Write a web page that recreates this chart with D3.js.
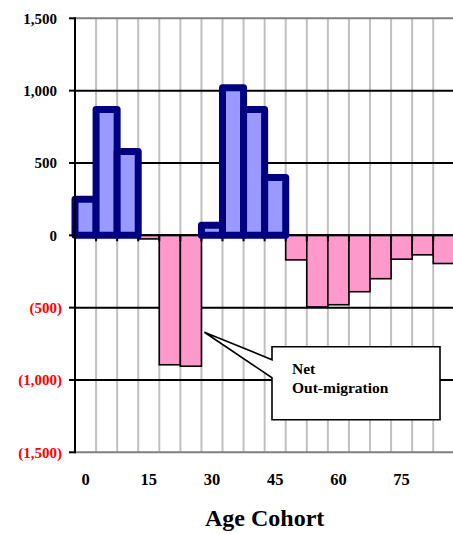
<!DOCTYPE html>
<html>
<head>
<meta charset="utf-8">
<script src="https://cdn.jsdelivr.net/npm/d3@7"></script>
<style>
  body { margin: 0; background: #fff; }
  text { font-family: "Liberation Serif", "Times New Roman", serif; font-weight: bold; }
</style>
</head>
<body>
<div id="chart"></div>
<script>
// age cohorts (start age of each 5-year group)
var ageStart = [0, 5, 10, 15, 20, 25, 30, 35, 40, 45, 50, 55, 60, 65, 70, 75, 80, 85];
// net in-migration (blue) and net out-migration (pink)
var inMigration  = [250, 870, 580, 0, 0, 0, 70, 1020, 870, 400, 0, 0, 0, 0, 0, 0, 0, 0];
var outMigration = [0, 0, 0, -25, -895, -905, 0, 0, 0, 0, -170, -495, -480, -390, -300, -165, -135, -195];
var yTicks = [-1500, -1000, -500, 0, 500, 1000, 1500];
var xLabelAges = [0, 15, 30, 45, 60, 75];

var W = 453, H = 534;
var svg = d3.select("#chart").append("svg")
    .attr("width", W)
    .attr("height", H);

var x = d3.scaleBand()
    .domain(ageStart)
    .range([75, 454.3])
    .padding(0);

var y = d3.scaleLinear()
    .domain([-1500, 1500])
    .range([452.3, 18.3]);

var bw = x.bandwidth();
var plotTop = y(1500), plotBottom = y(-1500), plotLeft = x.range()[0], plotRight = x.range()[1];

// vertical gray gridlines at category boundaries
svg.append("g").selectAll("line")
    .data(ageStart.slice(1))
    .enter().append("line")
    .attr("x1", d => x(d)).attr("x2", d => x(d))
    .attr("y1", plotTop).attr("y2", plotBottom)
    .attr("stroke", "#c0c0c0")
    .attr("stroke-width", 2);

// horizontal gridlines
svg.append("g").selectAll("line")
    .data(yTicks)
    .enter().append("line")
    .attr("x1", plotLeft).attr("x2", plotRight)
    .attr("y1", d => y(d)).attr("y2", d => y(d))
    .attr("stroke", d => Math.abs(d) == 1500 ? "#808080" : "#000")
    .attr("stroke-width", 2);

// out-migration bars
svg.append("g").selectAll("rect")
    .data(ageStart.map((a, i) => ({age: a, v: outMigration[i]})).filter(d => d.v < 0))
    .enter().append("rect")
    .attr("x", d => x(d.age))
    .attr("y", y(0))
    .attr("width", bw)
    .attr("height", d => y(d.v) - y(0))
    .attr("fill", "#ff99cc")
    .attr("stroke", "#000")
    .attr("stroke-width", 1.6);

// zero axis with ticks
svg.append("line")
    .attr("x1", plotLeft).attr("x2", plotRight)
    .attr("y1", y(0)).attr("y2", y(0))
    .attr("stroke", "#000").attr("stroke-width", 2);
svg.append("g").selectAll("line")
    .data(ageStart.slice(1))
    .enter().append("line")
    .attr("x1", d => x(d)).attr("x2", d => x(d))
    .attr("y1", y(0)).attr("y2", y(0) + 6)
    .attr("stroke", "#000").attr("stroke-width", 2);

// in-migration bars
svg.append("g").selectAll("rect")
    .data(ageStart.map((a, i) => ({age: a, v: inMigration[i]})).filter(d => d.v > 0))
    .enter().append("rect")
    .attr("x", d => x(d.age))
    .attr("y", d => y(d.v))
    .attr("width", bw)
    .attr("height", d => y(0) - y(d.v))
    .attr("fill", "#9999ff")
    .attr("stroke", "#000080")
    .attr("stroke-width", 7)
    .attr("stroke-linejoin", "round");

// left axis
svg.append("line")
    .attr("x1", plotLeft).attr("x2", plotLeft)
    .attr("y1", plotTop - 1).attr("y2", plotBottom + 1)
    .attr("stroke", "#000").attr("stroke-width", 2);
svg.append("g").selectAll("line")
    .data(yTicks)
    .enter().append("line")
    .attr("x1", plotLeft - 6).attr("x2", plotLeft)
    .attr("y1", d => y(d)).attr("y2", d => y(d))
    .attr("stroke", "#000").attr("stroke-width", 2);

var fmt = d3.format(",");
svg.append("g").selectAll("text")
    .data(yTicks)
    .enter().append("text")
    .attr("x", d => d < 0 ? 62 : 57)
    .attr("y", d => y(d))
    .attr("dy", "0.35em")
    .attr("text-anchor", "end")
    .attr("font-size", "15px")
    .attr("fill", d => d < 0 ? "#ff0000" : "#000")
    .text(d => d < 0 ? "(" + fmt(-d) + ")" : fmt(d));

// x labels
svg.append("g").selectAll("text")
    .data(xLabelAges)
    .enter().append("text")
    .attr("x", d => x(d) + bw / 2)
    .attr("y", 485)
    .attr("text-anchor", "middle")
    .attr("font-size", "16.5px")
    .attr("fill", "#000")
    .text(d => d);

svg.append("text")
    .attr("x", (plotLeft + plotRight) / 2)
    .attr("y", 526)
    .attr("text-anchor", "middle")
    .attr("font-size", "24px")
    .attr("fill", "#000")
    .text("Age Cohort");

// callout
var bx0 = 272, bx1 = 440, by0 = y(-770), by1 = y(-1275);
var tipX = x(25) + bw + 3, tipY = y(-670);
svg.append("path")
    .attr("d", "M" + bx0 + "," + by0 + " L" + bx1 + "," + by0 + " L" + bx1 + "," + by1 +
        " L" + bx0 + "," + by1 + " L" + bx0 + "," + y(-985) + " L" + tipX + "," + tipY +
        " L" + bx0 + "," + y(-860) + " Z")
    .attr("fill", "#fff")
    .attr("stroke", "#000")
    .attr("stroke-width", 1.6);

svg.append("text")
    .attr("x", 292).attr("y", 374)
    .attr("font-size", "15.5px")
    .text("Net");
svg.append("text")
    .attr("x", 292).attr("y", 393)
    .attr("font-size", "15.5px")
    .text("Out-migration");
</script>
</body>
</html>
